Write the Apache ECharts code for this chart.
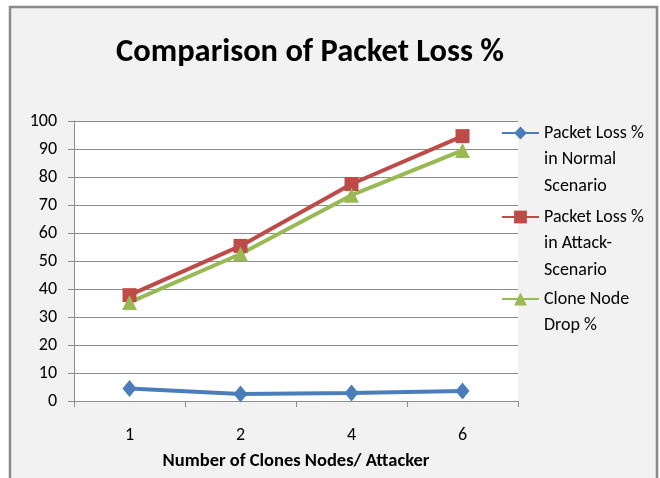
<!DOCTYPE html>
<html>
<head>
<meta charset="utf-8">
<script src="https://cdn.jsdelivr.net/npm/echarts@6/dist/echarts.min.js"></script>
<style>
  html, body { margin: 0; padding: 0; background: #ffffff; }
  #chart { width: 660px; height: 478px; }
</style>
</head>
<body>
<div id="chart"></div>
<script>
// Number of clone nodes / attackers on the x axis
const categories = ['1', '2', '4', '6'];

// Packet loss percentages per scenario
const normalLoss = [4.5, 2.5, 2.9, 3.6];
const attackLoss = [37.8, 55.4, 77.5, 94.6];
const cloneDrop = [35.2, 52.5, 73.5, 89.5];

const seriesNames = [
  'Packet Loss %\nin Normal\nScenario',
  'Packet Loss %\nin Attack-\nScenario',
  'Clone Node\nDrop %'
];

const FONT = 'Carlito, Lato, sans-serif';
const LINE_H = 26.5;

// One legend block per series; leading blank lines push the text down so
// its first line sits level with the marker
function legendBlock(name, lines, symbolY) {
  const blockH = (2 * lines - 1) * LINE_H;
  return {
    orient: 'vertical',
    left: 501,
    top: symbolY - blockH / 2,
    padding: 0,
    itemWidth: 37,
    itemHeight: 16,
    itemGap: 0,
    formatter: n => '\n'.repeat(lines - 1) + n,
    textStyle: { fontFamily: FONT, fontSize: 18, color: '#000000', lineHeight: LINE_H },
    data: [name]
  };
}

const chart = echarts.init(document.getElementById('chart'), null, { renderer: 'canvas' });

chart.setOption({
  backgroundColor: '#ffffff',
  animation: false,
  graphic: [
    {
      type: 'rect',
      z: -10,
      shape: { x: 10, y: 7, width: 647, height: 480 },
      style: { fill: '#f2f2f2', stroke: '#8a8a8a', lineWidth: 2.5 }
    }
  ],
  title: {
    text: 'Comparison of Packet Loss %',
    left: 305,
    top: 31,
    textAlign: 'center',
    textStyle: { fontFamily: FONT, fontSize: 32.5, fontWeight: 'bold', color: '#000000' }
  },
  grid: { left: 74, top: 121, right: 142, bottom: 77, show: true, backgroundColor: '#ffffff', borderWidth: 0 },
  legend: [
    legendBlock(seriesNames[0], 3, 133),
    legendBlock(seriesNames[1], 3, 217),
    legendBlock(seriesNames[2], 2, 299)
  ],
  xAxis: {
    type: 'category',
    data: categories,
    boundaryGap: true,
    name: 'Number of Clones Nodes/ Attacker',
    nameLocation: 'middle',
    nameGap: 51,
    nameTextStyle: { fontFamily: FONT, fontSize: 18.5, fontWeight: 'bold', color: '#000000' },
    axisLine: { lineStyle: { color: '#8c8c8c', width: 1 } },
    axisTick: { show: true, length: 6, lineStyle: { color: '#8c8c8c' } },
    axisLabel: { fontFamily: FONT, fontSize: 18, color: '#000000', margin: 25 },
    splitLine: { show: false }
  },
  yAxis: {
    type: 'value',
    min: 0,
    max: 100,
    interval: 10,
    axisLine: { show: true, lineStyle: { color: '#8c8c8c', width: 1 } },
    axisTick: { show: true, length: 6, lineStyle: { color: '#8c8c8c' } },
    axisLabel: { fontFamily: FONT, fontSize: 18, color: '#000000', margin: 17 },
    splitLine: { show: true, lineStyle: { color: '#8c8c8c', width: 1 } }
  },
  series: [
    {
      name: seriesNames[0],
      type: 'line',
      data: normalLoss,
      symbol: 'diamond',
      symbolSize: [14, 17],
      lineStyle: { color: '#4a7ebb', width: 4 },
      itemStyle: { color: '#4a7ebb' }
    },
    {
      name: seriesNames[1],
      type: 'line',
      data: attackLoss,
      symbol: 'rect',
      symbolSize: 14,
      lineStyle: { color: '#be4b48', width: 4 },
      itemStyle: { color: '#be4b48' }
    },
    {
      name: seriesNames[2],
      type: 'line',
      data: cloneDrop,
      symbol: 'triangle',
      symbolSize: 15,
      lineStyle: { color: '#98b954', width: 4 },
      itemStyle: { color: '#98b954' }
    }
  ]
});
</script>
</body>
</html>
